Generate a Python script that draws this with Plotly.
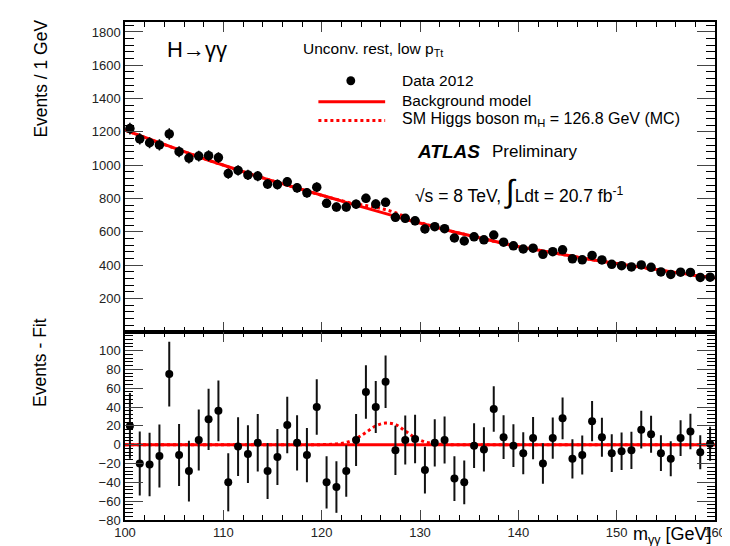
import plotly.graph_objects as go
from plotly.subplots import make_subplots

# ---------------- data ----------------
MASS = [100.5 + i for i in range(60)]          # bin centres, 1 GeV bins
MASS_LO, MASS_HI = 100.0, 160.0

DATA_EVENTS = [
    1220, 1158, 1135, 1122, 1188, 1081, 1043, 1055, 1057, 1046,
    950, 969, 942, 935, 887, 884, 900, 864, 834, 868,
    771, 749, 749, 766, 801, 767, 777, 687, 681, 666,
    617, 631, 619, 563, 545, 570, 552, 581, 538, 516,
    497, 502, 465, 481, 492, 438, 432, 458, 431, 405,
    397, 389, 401, 387, 359, 344, 358, 356, 326, 328,
]

# background model at 100, each bin centre, 160
BKG_EDGE_LO, BKG_EDGE_HI = 1211, 323
BKG_MODEL = [
    1200, 1178, 1156, 1134, 1113, 1092, 1071, 1050, 1030, 1010,
    990, 971, 952, 933, 915, 897, 879, 862, 845, 828,
    811, 794, 777, 761, 745, 727, 710, 693, 676, 660,
    644, 629, 614, 599, 585, 571, 557, 543, 530, 517,
    506, 495, 485, 474, 464, 453, 443, 433, 423, 414,
    404, 395, 385, 376, 368, 359, 351, 342, 334, 327,
]

# SM Higgs (mH = 126.8 GeV) signal expectation on the same grid
HIGGS_SIGNAL = [
    0, 0, 0, 0, 0, 0, 0, 0, 0, 0,
    0, 0, 0, 0, 0, 0, 0, 0, 0, 0,
    0.2, 0.8, 2.5, 6.5, 13, 20, 23, 21.5, 14.5, 7.5,
    3, 1, 0.3, 0, 0, 0, 0, 0, 0, 0,
    0, 0, 0, 0, 0, 0, 0, 0, 0, 0,
    0, 0, 0, 0, 0, 0, 0, 0, 0, 0,
]

TOP_YTICKS = [200, 400, 600, 800, 1000, 1200, 1400, 1600, 1800]
BOT_YTICKS = [-80, -60, -40, -20, 0, 20, 40, 60, 80, 100]
XTICKS = [100, 110, 120, 130, 140, 150, 160]

# ---------------- derived ----------------
curve_x = [MASS_LO] + MASS + [MASS_HI]
bkg_curve = [BKG_EDGE_LO] + BKG_MODEL + [BKG_EDGE_HI]
sig_curve = [0] + HIGGS_SIGNAL + [0]
bkg_plus_sig = [b + s for b, s in zip(bkg_curve, sig_curve)]
zero_curve = [b - b for b in bkg_curve]
data_err = [d ** 0.5 for d in DATA_EVENTS]
resid = [d - b for d, b in zip(DATA_EVENTS, BKG_MODEL)]

FONT = "Liberation Sans, Arial, Helvetica, sans-serif"
RED = "#ff0000"

W, H = 730, 546
L, R, T, B = 117, 12, 12, 34
PW, PH = W - L - R, H - T - B
SPLIT = 323  # pixel row of the boundary between panels


def X(px):
    return (px - L) / PW


def Y(py):
    return (H - B - py) / PH


fig = make_subplots(rows=2, cols=1, shared_xaxes=False, vertical_spacing=0)

# top panel
fig.add_trace(go.Scatter(x=curve_x, y=bkg_plus_sig, mode="lines",
                         line=dict(color=RED, width=3, dash="dot", shape="spline"),
                         showlegend=False, hoverinfo="skip"), row=1, col=1)
fig.add_trace(go.Scatter(x=curve_x, y=bkg_curve, mode="lines",
                         line=dict(color=RED, width=3),
                         showlegend=False), row=1, col=1)
fig.add_trace(go.Scatter(x=MASS, y=DATA_EVENTS, mode="markers",
                         marker=dict(color="black", size=9.5),
                         error_y=dict(type="data", array=data_err, color="black",
                                      thickness=1.5, width=0),
                         showlegend=False), row=1, col=1)

# bottom panel
fig.add_trace(go.Scatter(x=curve_x, y=sig_curve, mode="lines",
                         line=dict(color=RED, width=3, dash="dot", shape="spline"),
                         showlegend=False, hoverinfo="skip"), row=2, col=1)
fig.add_trace(go.Scatter(x=curve_x, y=zero_curve, mode="lines",
                         line=dict(color=RED, width=3),
                         showlegend=False), row=2, col=1)
fig.add_trace(go.Scatter(x=MASS, y=resid, mode="markers",
                         marker=dict(color="black", size=8),
                         error_y=dict(type="data", array=data_err, color="#111",
                                      thickness=2, width=0),
                         showlegend=False), row=2, col=1)

bot_frac = Y(SPLIT)

axis_common = dict(showline=True, linecolor="black", linewidth=1.5, mirror="allticks",
                   ticks="inside", showgrid=False, zeroline=False,
                   tickfont=dict(family=FONT, size=13, color="#222"))

fig.update_xaxes(range=[MASS_LO, MASS_HI], tickvals=XTICKS, ticklen=10,
                 minor=dict(ticks="inside", dtick=2, ticklen=5, tickcolor="black"),
                 **axis_common)
fig.update_xaxes(showticklabels=False, row=1, col=1)
fig.update_xaxes(showticklabels=True, row=2, col=1)

fig.update_yaxes(range=[0, 1860], tickvals=TOP_YTICKS, ticklen=18,
                 minor=dict(ticks="inside", dtick=40, ticklen=9, tickcolor="black"),
                 **axis_common, row=1, col=1)
fig.update_yaxes(range=[-80, 120], tickvals=BOT_YTICKS, ticklen=18,
                 minor=dict(ticks="inside", dtick=4, ticklen=8, tickcolor="black"),
                 **axis_common, row=2, col=1)

fig.update_layout(
    width=W, height=H,
    margin=dict(l=L, r=R, t=T, b=B),
    paper_bgcolor="white", plot_bgcolor="white",
    font=dict(family=FONT, color="black"),
    showlegend=False,
    yaxis=dict(domain=[bot_frac, 1.0]),
    yaxis2=dict(domain=[0.0, bot_frac]),
)

ann = []


def text(px, py, s, size, xanchor="left", angle=0, yanchor="middle"):
    ann.append(dict(x=X(px), y=Y(py), xref="paper", yref="paper", text=s,
                    showarrow=False, xanchor=xanchor, yanchor=yanchor,
                    textangle=angle, font=dict(family=FONT, size=size, color="black")))


text(158, 40, "H→γγ", 22)
text(296, 40, "Unconv. rest, low p<sub>Tt</sub>", 15.5)
text(397, 71, "Data 2012", 15.5)
text(397, 91, "Background model", 15.5)
text(397, 110, "SM Higgs boson m<sub>H</sub> = 126.8 GeV (MC)", 16)
text(412, 142, "<b><i>ATLAS</i></b>", 19)
text(489, 142, "Preliminary", 17)
text(410, 182, "√s = 8 TeV, <span style='font-size:32px'>∫</span>Ldt = 20.7 fb<sup>-1</sup>", 17.5)
text(31, 8, "Events / 1 GeV", 17.5, xanchor="center", angle=-90, yanchor="top")
text(31, 307, "Events - Fit", 17.5, xanchor="center", angle=-90, yanchor="top")
text(717, 528, "m<sub>γγ</sub> [GeV]", 18, xanchor="right")
fig.update_layout(annotations=ann)

r = 4.5
shapes = [
    dict(type="circle", xref="paper", yref="paper",
         x0=X(347 - r), x1=X(347 + r), y0=Y(71 + r), y1=Y(71 - r),
         fillcolor="black", line=dict(color="black", width=0)),
    dict(type="line", xref="paper", yref="paper", x0=X(314), x1=X(382),
         y0=Y(92), y1=Y(92), line=dict(color=RED, width=3)),
    dict(type="line", xref="paper", yref="paper", x0=X(314), x1=X(382),
         y0=Y(111), y1=Y(111), line=dict(color=RED, width=3, dash="dot")),
]
fig.update_layout(shapes=shapes)

fig.write_html("out.html")
